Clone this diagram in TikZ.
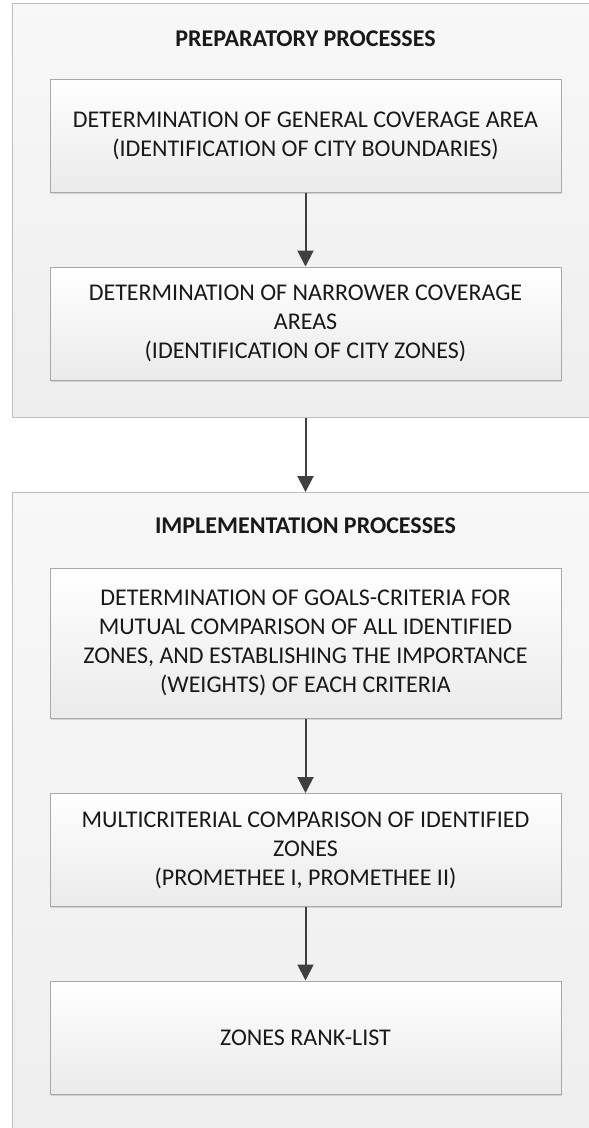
\documentclass[tikz,border=0pt]{standalone}
\usepackage{fontspec}
\setmainfont{Carlito}
\usetikzlibrary{arrows.meta,shadows}
\definecolor{contfill}{HTML}{F3F3F3}
\definecolor{contfillb}{HTML}{EEEEEE}
\definecolor{contline}{HTML}{BFBFBF}
\definecolor{boxline}{HTML}{A9A9A9}
\definecolor{arrcol}{HTML}{404040}
\tikzset{
  container/.style={draw=contline, line width=1.2pt, top color=contfill!60!white, bottom color=contfillb, anchor=north west, inner sep=0pt},
  stepbox/.style={draw=boxline, line width=1pt, top color=white, bottom color=black!8, minimum width=511pt, minimum height=113pt, align=center, inner sep=0pt, text=black!90,
    font=\fontsize{24}{29}\selectfont,
    drop shadow={shadow xshift=1.2pt, shadow yshift=-1.5pt, fill=black!25, opacity=0.6}},
  header/.style={font=\bfseries\fontsize{24}{28}\selectfont, text=black!90},
  arr/.style={draw=arrcol, line width=2pt, -{Triangle[width=16pt,length=16pt]}}
}
\begin{document}
\begin{tikzpicture}[x=1pt,y=-1pt]
\useasboundingbox (0,0) rectangle (589,1128);
\clip (0,0) rectangle (589,1128);
\fill[white] (0,0) rectangle (589,1128);
% containers
\node[container, minimum width=640pt, minimum height=414pt] (prep) at (12,3) {};
\node[container, minimum width=640pt, minimum height=680pt] (impl) at (12,492) {};
% headers
\node[header] (h1) at (305.5,39) {PREPARATORY PROCESSES};
\node[header] (h2) at (305.5,526) {IMPLEMENTATION PROCESSES};
% step boxes
\node[stepbox] (b1) at (305.5,135.5) {DETERMINATION OF GENERAL COVERAGE AREA\\(IDENTIFICATION OF CITY BOUNDARIES)};
\node[stepbox] (b2) at (305.5,323.5) {DETERMINATION OF NARROWER COVERAGE\\AREAS\\(IDENTIFICATION OF CITY ZONES)};
\node[stepbox, minimum height=150pt] (b3) at (305.5,643) {DETERMINATION OF GOALS-CRITERIA FOR\\MUTUAL COMPARISON OF ALL IDENTIFIED\\ZONES, AND ESTABLISHING THE IMPORTANCE\\(WEIGHTS) OF EACH CRITERIA};
\node[stepbox] (b4) at (305.5,850) {MULTICRITERIAL COMPARISON OF IDENTIFIED\\ZONES\\(PROMETHEE I, PROMETHEE II)};
\node[stepbox] (b5) at (305.5,1037.5) {ZONES RANK-LIST};
% arrows
\draw[arr] (b1.south) -- (b2.north);
\draw[arr] (b2 |- prep.south) -- (b2 |- impl.north);
\draw[arr] (b3.south) -- (b4.north);
\draw[arr] (b4.south) -- (b5.north);
\end{tikzpicture}
\end{document}
